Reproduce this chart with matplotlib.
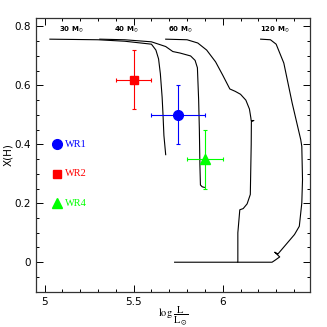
import matplotlib
matplotlib.use("Agg")
import matplotlib.pyplot as plt
from matplotlib.ticker import MultipleLocator

plt.rcParams["mathtext.fontset"] = "stix"

# Evolutionary tracks (log L, X(H))
t30_x = [5.03, 5.30, 5.45, 5.60, 5.625, 5.64, 5.65, 5.66, 5.665, 5.67, 5.68]
t30_y = [0.757, 0.755, 0.75, 0.74, 0.72, 0.69, 0.64, 0.56, 0.50, 0.43, 0.365]

t40_x = [5.31, 5.45, 5.60, 5.68, 5.72, 5.76, 5.82, 5.845, 5.858, 5.865, 5.869, 5.872, 5.875, 5.885, 5.897]
t40_y = [0.757, 0.755, 0.748, 0.732, 0.715, 0.71, 0.70, 0.685, 0.66, 0.55, 0.45, 0.33, 0.262, 0.256, 0.254]

t60_x = [5.68, 5.80, 5.86, 5.91, 5.96, 6.00, 6.04, 6.07, 6.10, 6.13, 6.15, 6.158, 6.16, 6.175,
         6.161, 6.16, 6.155, 6.137, 6.115, 6.096, 6.085, 6.085, 5.73]
t60_y = [0.757, 0.755, 0.744, 0.72, 0.68, 0.635, 0.588, 0.58, 0.57, 0.55, 0.52, 0.49, 0.48, 0.481,
         0.478, 0.40, 0.23, 0.198, 0.182, 0.178, 0.10, 0.0, 0.0]

t120_x = [6.213, 6.268, 6.30, 6.343, 6.39, 6.438, 6.444, 6.448, 6.444, 6.43, 6.403, 6.31,
          6.292, 6.32, 6.292, 6.277, 6.085]
t120_y = [0.757, 0.755, 0.74, 0.676, 0.54, 0.416, 0.393, 0.28, 0.201, 0.122, 0.094, 0.028,
          0.034, 0.018, 0.006, 0.0, 0.0]

track_labels = ["30 M$_{\\odot}$", "40 M$_{\\odot}$", "60 M$_{\\odot}$", "120 M$_{\\odot}$"]
track_label_x = [5.15, 5.46, 5.76, 6.29]

# Stars
star_names = ["WR1", "WR2", "WR4"]
star_logL = [5.75, 5.50, 5.90]
star_logL_err = [0.15, 0.10, 0.10]
star_XH = [0.50, 0.62, 0.35]
star_XH_err = [0.10, 0.10, 0.10]
star_colors = ["#0000ff", "#ff0000", "#00ff00"]
star_markers = ["o", "s", "^"]
star_msize = [7, 5.5, 6.5]
legend_y = [0.40, 0.30, 0.20]

fig = plt.figure(figsize=(3.27, 3.27), dpi=100)
ax = fig.add_axes([0.109, 0.108, 0.839, 0.838])

for tx, ty in [(t30_x, t30_y), (t40_x, t40_y), (t60_x, t60_y), (t120_x, t120_y)]:
    ax.plot(tx, ty, color="black", lw=0.8)

for lab, lx in zip(track_labels, track_label_x):
    ax.text(lx, 0.79, lab, fontsize=5, ha="center", va="center", fontweight="bold")

for x, xe, y, ye, c, m, ms in zip(star_logL, star_logL_err, star_XH, star_XH_err,
                                  star_colors, star_markers, star_msize):
    ax.errorbar(x, y, xerr=xe, yerr=ye, color=c, marker=m, ms=ms, lw=0.8,
                capsize=1.5, capthick=0.8, ecolor=c)

for name, ly, c, m, ms in zip(star_names, legend_y, star_colors, star_markers, star_msize):
    ax.plot(5.07, ly, marker=m, color=c, ms=ms, ls="none")
    ax.text(5.115, ly, name, color=c, fontsize=7.5, va="center", ha="left",
            family="Liberation Serif")

ax.set_xlim(4.95, 6.49)
ax.set_ylim(-0.1, 0.83)
ax.xaxis.set_major_locator(MultipleLocator(0.5))
ax.xaxis.set_minor_locator(MultipleLocator(0.1))
ax.yaxis.set_major_locator(MultipleLocator(0.2))
ax.yaxis.set_minor_locator(MultipleLocator(0.05))
ax.tick_params(which="both", direction="in", top=True, right=True, labelsize=7.5, width=0.7)
ax.tick_params(which="major", length=5)
ax.tick_params(which="minor", length=2.5)
for s in ax.spines.values():
    s.set_linewidth(0.9)
    s.set_color("#333333")

ax.set_xticks([5, 5.5, 6])
ax.set_xticklabels(["5", "5.5", "6"])
ax.set_yticks([0, 0.2, 0.4, 0.6, 0.8])
ax.set_yticklabels(["0", "0.2", "0.4", "0.6", "0.8"])

ax.set_xlabel(r"$\mathrm{log}\ \dfrac{\mathrm{L}}{\mathrm{L}_{\odot}}$", fontsize=7.5,
              labelpad=-1)
ax.set_ylabel("X(H)", fontsize=7.5, labelpad=1)

fig.savefig("out.png", dpi=100)
